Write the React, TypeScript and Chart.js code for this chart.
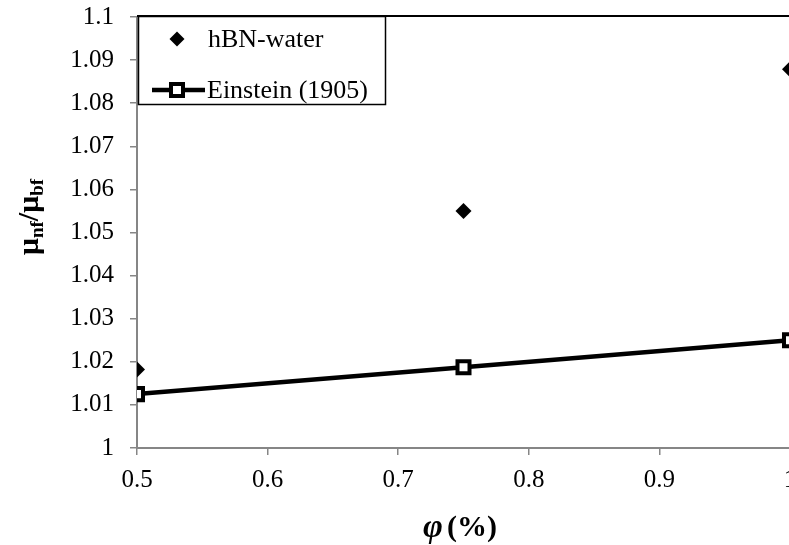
import React, { useEffect, useRef } from "react";
import { Chart, registerables } from "chart.js";

Chart.register(...registerables);

// Volume fraction (%) and relative viscosity values
const phi = [0.5, 0.75, 1.0];
const hbnWater = [1.0182, 1.055, 1.0879];
const einstein = [1.0125, 1.01875, 1.025];
const xTicks = [0.5, 0.6, 0.7, 0.8, 0.9, 1];
const yMin = 1;
const yMax = 1.1;
const seriesNames = ["hBN-water", "Einstein (1905)"];

const SERIF = "'Liberation Serif', 'Times New Roman', serif";

const decorPlugin = {
  id: "decor",
  afterDraw(chart: any) {
    const { ctx, chartArea } = chart;
    ctx.save();
    // top frame line of the plot area
    ctx.strokeStyle = "#000";
    ctx.lineWidth = 2;
    ctx.beginPath();
    ctx.moveTo(chartArea.left, chartArea.top - 1);
    ctx.lineTo(chartArea.right + 20, chartArea.top - 1);
    ctx.stroke();

    // legend box
    const bx = 138, by = 16, bw = 247, bh = 88;
    ctx.fillStyle = "#fff";
    ctx.fillRect(bx, by, bw, bh);
    ctx.strokeStyle = "#000";
    ctx.lineWidth = 1.5;
    ctx.strokeRect(bx + 0.5, by + 0.5, bw, bh);

    ctx.font = `26px ${SERIF}`;
    ctx.fillStyle = "#000";
    ctx.textBaseline = "middle";
    ctx.textAlign = "left";

    // entry 1: diamond
    const mx = 177;
    const y1 = 39;
    const d = 7.5;
    ctx.beginPath();
    ctx.moveTo(mx - d, y1);
    ctx.lineTo(mx, y1 - d);
    ctx.lineTo(mx + d, y1);
    ctx.lineTo(mx, y1 + d);
    ctx.closePath();
    ctx.fill();
    ctx.fillText(seriesNames[0], 208, y1 + 1);

    // entry 2: line with square marker
    const y2 = 90;
    ctx.lineWidth = 4.5;
    ctx.beginPath();
    ctx.moveTo(152, y2);
    ctx.lineTo(205, y2);
    ctx.stroke();
    ctx.fillStyle = "#fff";
    ctx.fillRect(mx - 6, y2 - 6, 12, 12);
    ctx.lineWidth = 4;
    ctx.strokeRect(mx - 6, y2 - 6, 12, 12);
    ctx.fillStyle = "#000";
    ctx.fillText(seriesNames[1], 207, y2 + 1);

    // y-axis title: μ_nf / μ_bf
    const parts: [string, boolean][] = [
      ["\u03BC", false],
      ["nf", true],
      ["/", false],
      ["\u03BC", false],
      ["bf", true],
    ];
    const big = `bold 30px ${SERIF}`;
    const small = `bold 19px ${SERIF}`;
    let total = 0;
    const widths = parts.map(([t, sub]) => {
      ctx.font = sub ? small : big;
      const w = ctx.measureText(t).width;
      total += w;
      return w;
    });
    ctx.translate(38, 217);
    ctx.rotate(-Math.PI / 2);
    let x = -total / 2;
    ctx.textBaseline = "alphabetic";
    parts.forEach(([t, sub], i) => {
      ctx.font = sub ? small : big;
      ctx.fillText(t, x, sub ? 5 : 0);
      x += widths[i];
    });
    ctx.setTransform(1, 0, 0, 1, 0, 0);

    // x-axis title: φ (%)
    const f1 = `bold italic 34px ${SERIF}`;
    const f2 = `bold 30px ${SERIF}`;
    ctx.font = f1;
    const w1 = ctx.measureText("\u03C6").width;
    ctx.font = f2;
    const w2 = ctx.measureText("(%)").width;
    const gap = 4;
    const cx = 460;
    const tx = cx - (w1 + gap + w2) / 2;
    ctx.textBaseline = "alphabetic";
    ctx.font = f1;
    ctx.fillText("\u03C6", tx, 537);
    ctx.font = f2;
    ctx.fillText("(%)", tx + w1 + gap, 536);
    ctx.restore();
  },
};

export default function App() {
  const ref = useRef<HTMLCanvasElement | null>(null);

  useEffect(() => {
    if (!ref.current) return;
    const chart = new Chart(ref.current, {
      type: "scatter",
      data: {
        datasets: [
          {
            label: seriesNames[0],
            data: phi.map((p, i) => ({ x: p, y: hbnWater[i] })),
            pointStyle: "rectRot",
            pointRadius: 8,
            backgroundColor: "#000",
            borderColor: "#000",
            borderWidth: 0,
            showLine: false,
          },
          {
            label: seriesNames[1],
            data: phi.map((p, i) => ({ x: p, y: einstein[i] })),
            pointStyle: "rect",
            pointRadius: 8.5,
            pointBorderWidth: 4,
            pointBackgroundColor: "#fff",
            pointBorderColor: "#000",
            borderColor: "#000",
            borderWidth: 4.5,
            showLine: true,
          } as any,
        ],
      },
      options: {
        responsive: false,
        animation: false,
        devicePixelRatio: 1,
        layout: { padding: { top: 17, right: 30, left: 0, bottom: 0 } },
        plugins: { legend: { display: false }, tooltip: { enabled: false } },
        scales: {
          x: {
            type: "linear",
            min: 0.5,
            max: 1,
            afterBuildTicks: (s: any) => {
              s.ticks = xTicks.map((v) => ({ value: v }));
            },
            afterFit: (s: any) => {
              s.height = 97;
              s.paddingLeft = 0;
              s.paddingRight = 0;
            },
            grid: {
              drawOnChartArea: false,
              color: "#868686",
              tickLength: 7,
              lineWidth: 1.5,
            },
            border: { color: "#868686", width: 2 },
            ticks: {
              color: "#000",
              padding: 10,
              font: { family: SERIF, size: 25 },
              callback: (v: any) => String(v),
            },
          },
          y: {
            type: "linear",
            min: yMin,
            max: yMax,
            afterFit: (s: any) => {
              s.width = 137;
              s.paddingTop = 0;
              s.paddingBottom = 0;
            },
            grid: {
              drawOnChartArea: false,
              color: "#868686",
              tickLength: 7,
              lineWidth: 1.5,
            },
            border: { color: "#868686", width: 2 },
            ticks: {
              stepSize: 0.01,
              color: "#000",
              padding: 16,
              font: { family: SERIF, size: 25 },
              callback: (v: any) => String(Math.round(Number(v) * 100) / 100),
            },
          },
        },
      },
      plugins: [decorPlugin],
    });
    return () => chart.destroy();
  }, []);

  return (
    <div
      style={{
        position: "fixed",
        left: 0,
        top: 0,
        width: 789,
        height: 545,
        overflow: "hidden",
        background: "#fff",
      }}
    >
      <canvas ref={ref} width={820} height={545} />
    </div>
  );
}
